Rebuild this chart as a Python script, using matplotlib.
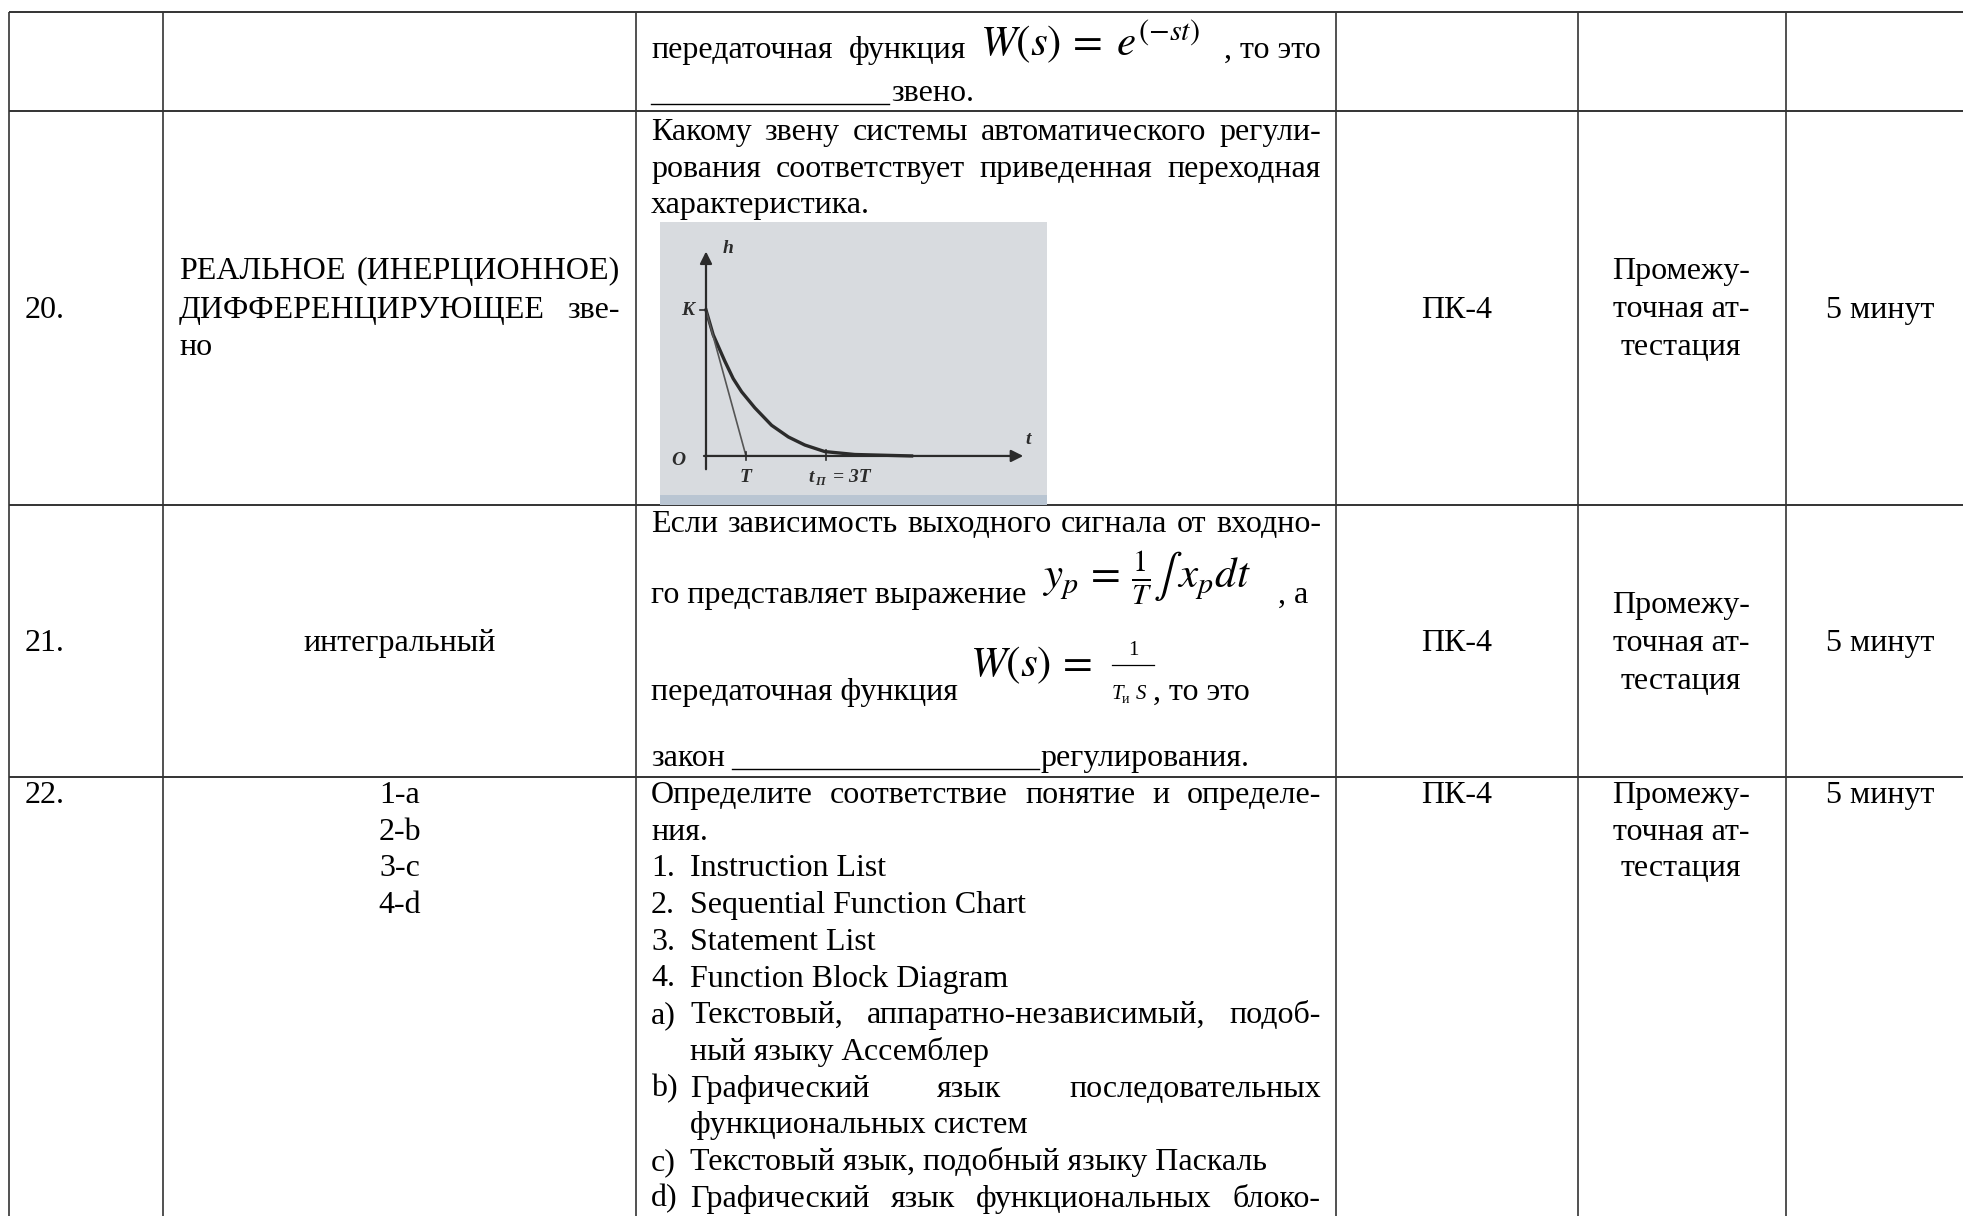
import numpy as np
import matplotlib
matplotlib.use("Agg")
import matplotlib.pyplot as plt

plt.rcParams['font.family'] = ['Liberation Serif', 'DejaVu Serif']
plt.rcParams['mathtext.fontset'] = 'stix'

W, H = 1963, 1216
BODY = 23

# table grid, pixels
col_x = [9, 163, 636, 1336, 1578, 1786]
row_y = [12, 111, 505, 777]

# table contents
task_no = ["", "20.", "21.", "22."]
competence = ["", "ПК-4", "ПК-4", "ПК-4"]
stage = ["Промежу-", "точная ат-", "тестация"]
duration = ["", "5 минут", "5 минут", "5 минут"]
answer_20 = ["РЕАЛЬНОЕ (ИНЕРЦИОННОЕ)", "ДИФФЕРЕНЦИРУЮЩЕЕ зве-", "но"]
answer_21 = "интегральный"
answer_22 = ["1-a", "2-b", "3-c", "4-d"]
question_20 = ["Какому звену системы автоматического регули-",
               "рования соответствует приведенная переходная",
               "характеристика."]
question_22_head = ["Определите соответствие понятие и определе-", "ния."]
languages = ["Instruction List", "Sequential Function Chart",
             "Statement List", "Function Block Diagram"]
definitions = [("a)", ["Текстовый, аппаратно-независимый, подоб-", "ный языку Ассемблер"]),
               ("b)", ["Графический язык последовательных", "функциональных систем"]),
               ("c)", ["Текстовый язык, подобный языку Паскаль"]),
               ("d)", ["Графический язык функциональных блоко-"])]

# step response (t in T, h in K)
resp_t = [0, 0.18, 0.47, 0.68, 0.89, 1.22, 1.64, 2.06, 2.47, 2.97, 3.72, 5.14]
resp_h = [1.0, 0.83, 0.65, 0.53, 0.44, 0.33, 0.21, 0.13, 0.075, 0.03, 0.01, 0.0]
tangent_t = [0, 1]
tangent_h = [1, 0]

fig = plt.figure(figsize=(W / 100, H / 100), dpi=100)
ax = fig.add_axes([0, 0, 1, 1])
ax.set_xlim(0, W)
ax.set_ylim(H, 0)
ax.axis('off')
renderer = fig.canvas.get_renderer()

line_col = '#333333'
for y in row_y:
    ax.plot([col_x[0], W], [y, y], color=line_col, lw=1.4, solid_capstyle='butt')
for x in col_x:
    ax.plot([x, x], [row_y[0], H], color=line_col, lw=1.2, solid_capstyle='butt')


def put(s, x, y, ha='left', size=BODY, **kw):
    return ax.text(x, y, s, fontsize=size, ha=ha, va='baseline', color='black', **kw)


def width(s, size=BODY):
    t = ax.text(0, 0, s, fontsize=size)
    w = t.get_window_extent(renderer).width
    t.remove()
    return w


def justify(line, x0, x1, y, size=BODY):
    words = line.split()
    ws = [width(w, size) for w in words]
    gap = (x1 - x0 - sum(ws)) / (len(words) - 1)
    x = x0
    for w, wd in zip(words, ws):
        put(w, x, y, size=size)
        x += wd + gap


c3_l, c3_r = 651, 1321
step = 36.7

# row 1 (continuation from previous page)
put("передаточная", c3_l, 58)
put("функция", 849, 58)
put(r"$W(s)\,=\;e^{(-st)}$", 980, 55, size=31)
put(", то это", c3_r, 58, ha='right')
ax.plot([c3_l, 889], [104, 104], color='black', lw=1.0)
put("звено.", 891, 101)

# row 20
put(task_no[1], 25, 318)
justify(answer_20[0], 179, 620, 279)
justify(answer_20[1], 179, 620, 318)
put(answer_20[2], 179, 355)
justify(question_20[0], c3_l, c3_r, 140)
justify(question_20[1], c3_l, c3_r, 177)
put(question_20[2], c3_l, 213)
put(competence[1], 1457, 318, ha='center')
for i, s in enumerate(stage):
    put(s, 1681, 279 + i * 38, ha='center')
put(duration[1], 1880, 318, ha='center')

# embedded transient response picture
pl, pr, pt, pb = 660, 1047, 222, 505
ins = fig.add_axes([pl / W, 1 - pb / H, (pr - pl) / W, (pb - pt) / H])
ins.set_facecolor('#d8dbdf')
ins.set_xticks([])
ins.set_yticks([])
for sp in ins.spines.values():
    sp.set_visible(False)
ins.set_xlim(-1.15, 8.525)
ins.set_ylim(-0.336, 1.603)
ins.axhspan(-0.336, -0.27, color='#b9c5d2', lw=0)
ink = '#2b2b2b'
ins.annotate('', xy=(8.0, 0), xytext=(-0.12, 0),
             arrowprops=dict(arrowstyle='-|>', color=ink, lw=1.6, mutation_scale=18))
ins.annotate('', xy=(0, 1.42), xytext=(0, -0.11),
             arrowprops=dict(arrowstyle='-|>', color=ink, lw=1.6, mutation_scale=18))
ins.plot(resp_t, resp_h, color=ink, lw=2.4)
ins.plot(tangent_t, tangent_h, color='#555555', lw=1.2)
ins.plot([-0.15, 0], [1, 1], color=ink, lw=1.2)
ins.plot([1, 1], [-0.03, 0.03], color=ink, lw=1.2)
ins.plot([3, 3], [-0.03, 0.04], color=ink, lw=1.2)
lab = dict(fontsize=14, fontweight='bold', fontstyle='italic', color=ink)
ins.text(-0.45, 1.0, 'K', ha='center', va='center', **lab)
ins.text(0.55, 1.42, 'h', ha='center', va='center', **lab)
ins.text(8.05, 0.11, 't', ha='center', va='center', **lab)
ins.text(-0.7, -0.03, 'O', ha='center', va='center', **lab)
ins.text(1.0, -0.15, 'T', ha='center', va='center', **lab)
ins.text(2.62, -0.15, 't', ha='center', va='center', **lab)
ins.text(2.85, -0.18, 'П', ha='center', va='center', fontsize=9,
         fontweight='bold', fontstyle='italic', color=ink)
ins.text(3.65, -0.15, '= 3T', ha='center', va='center', **lab)

# row 21
put(task_no[2], 25, 651)
put(answer_21, 400, 651, ha='center')
justify("Если зависимость выходного сигнала от входно-", c3_l, c3_r, 532)
put("го представляет выражение", c3_l, 603)
put(r"$y_p\,=\,\frac{1}{T}\int\,x_p d t$", 1042, 588, size=31)
put(", а", 1278, 603)
put(r"$W(s)\,=\;$", 970, 676, size=31)
put("1", 1133, 655, ha='center', size=15)
ax.plot([1112, 1154], [665, 665], color='black', lw=0.9)
put("T", 1112, 699, size=15, fontstyle='italic')
put("и", 1122, 703, size=10)
put("S", 1136, 699, size=15, fontstyle='italic')
put("передаточная функция", c3_l, 700)
put(", то это", 1153, 700)
put("закон", c3_l, 766)
ax.plot([732, 1039], [769, 769], color='black', lw=1.0)
put("регулирования.", 1040, 766)
put(competence[2], 1457, 651, ha='center')
for i, s in enumerate(stage):
    put(s, 1681, 613 + i * 38, ha='center')
put(duration[2], 1880, 651, ha='center')

# row 22
b0 = 803
put(task_no[3], 25, b0)
for i, s in enumerate(answer_22):
    put(s, 400, b0 + i * step, ha='center')
put(competence[3], 1457, b0, ha='center')
for i, s in enumerate(stage):
    put(s, 1681, b0 + i * step, ha='center')
put(duration[3], 1880, b0, ha='center')

k = 0
justify(question_22_head[0], c3_l, c3_r, b0 + k * step)
k += 1
put(question_22_head[1], c3_l, b0 + k * step)
k += 1
for i, s in enumerate(languages):
    put(f"{i + 1}.", c3_l, b0 + k * step)
    put(s, 690, b0 + k * step)
    k += 1
for mark, lines in definitions:
    put(mark, c3_l, b0 + k * step)
    for j, s in enumerate(lines):
        if j == 0 and len(lines) > 1 or mark == "d)":
            justify(s, 690, c3_r, b0 + k * step)
        else:
            put(s, 690, b0 + k * step)
        k += 1

fig.savefig("out.png", dpi=100)
